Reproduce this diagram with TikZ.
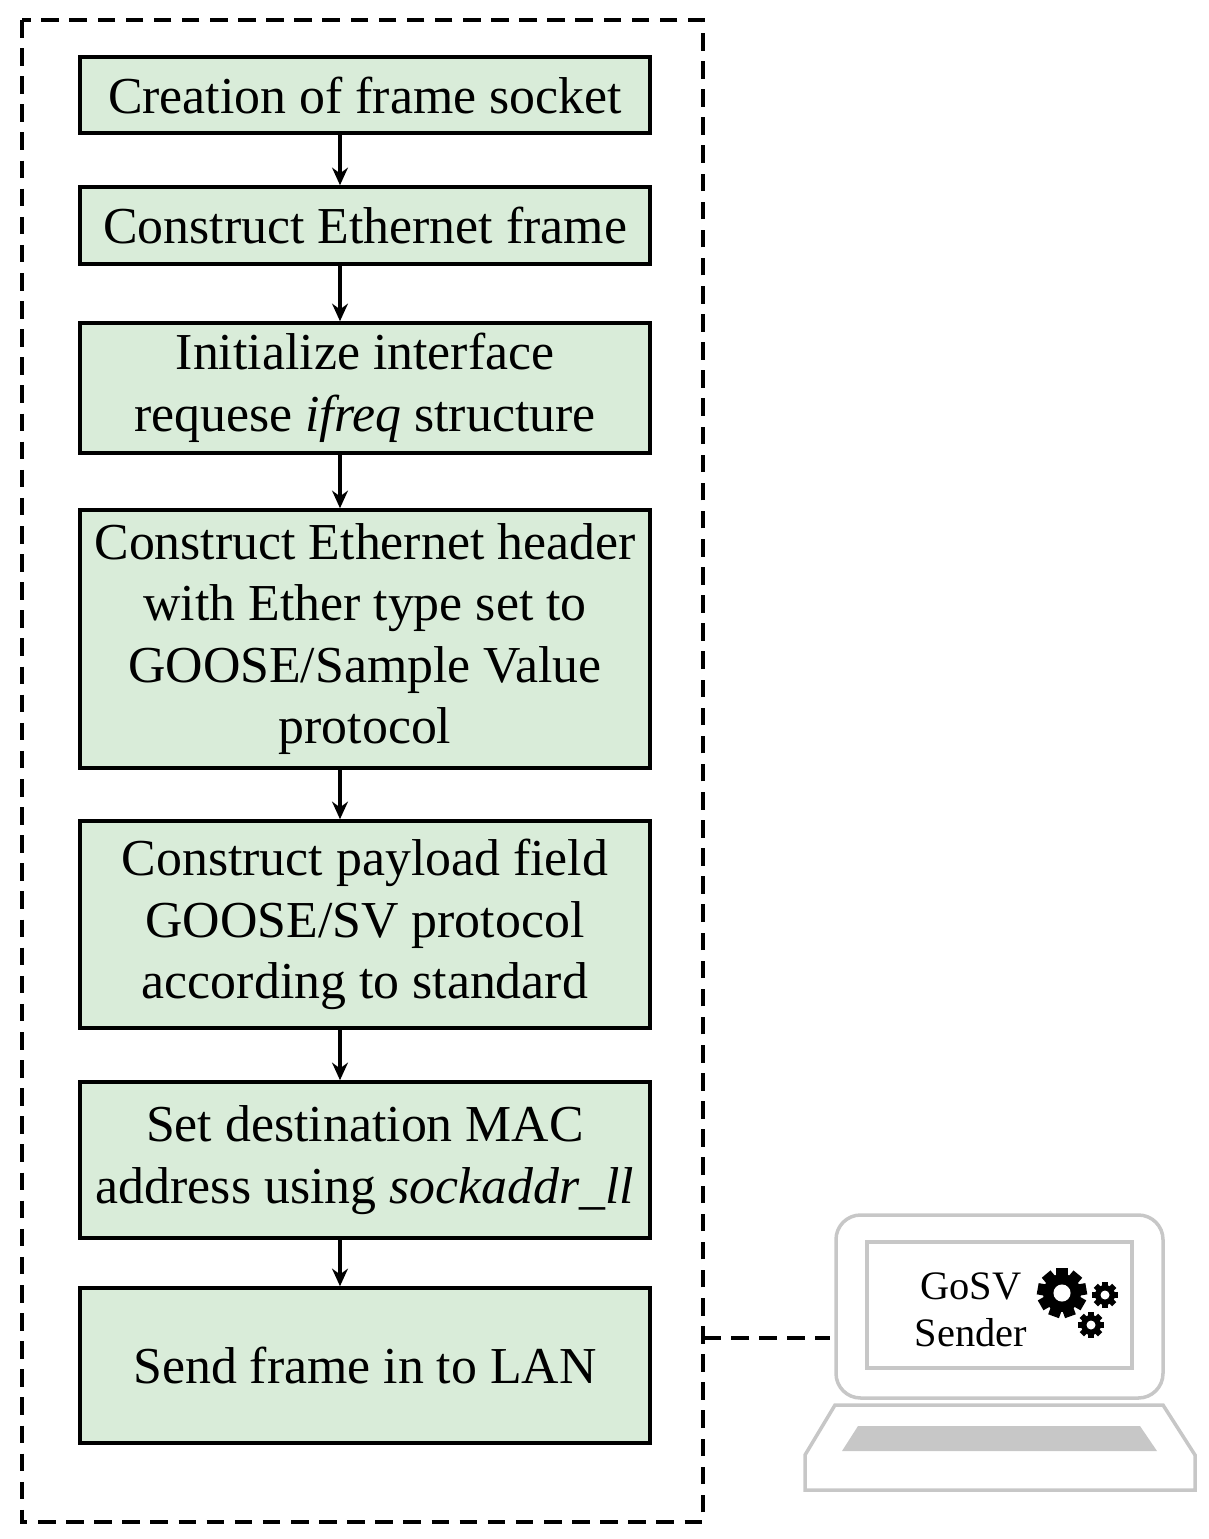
\documentclass[tikz,border=0pt]{standalone}
\usepackage{fontspec}
\setmainfont{Liberation Serif}
\usetikzlibrary{arrows.meta}
\begin{document}
\begin{tikzpicture}[x=0.02cm,y=-0.02cm,
  flowbox/.style={draw=black,line width=2pt,fill=green!50!black!15,minimum width=570*0.02cm,align=center,font=\fontsize{29.5}{35}\selectfont,inner sep=0pt},
  arr/.style={-{Stealth[length=10pt,width=9pt]},line width=2pt},
  lap/.style={draw=black!22,line width=2pt},
  dsh/.style={line width=2pt,dash pattern=on 10pt off 6pt}]
\useasboundingbox (0,0) rectangle (1209,1539);
\draw[dsh] (22,20) rectangle (703,1522);
\node[flowbox,minimum height=76*0.02cm] (s1) at (365,95) {Creation of frame socket};
\node[flowbox,minimum height=77*0.02cm] (s2) at (365,225.5) {Construct Ethernet frame};
\node[flowbox,minimum height=130*0.02cm] (s3) at (365,388) {Initialize interface\\ requese \textit{ifreq} structure};
\node[flowbox,minimum height=258*0.02cm] (s4) at (365,639) {Construct Ethernet header\\ with Ether type set to\\ GOOSE/Sample Value\\ protocol};
\node[flowbox,minimum height=207*0.02cm] (s5) at (365,924.5) {Construct payload field\\ GOOSE/SV protocol\\ according to standard};
\node[flowbox,minimum height=156*0.02cm] (s6) at (365,1160) {Set destination MAC\\ address using \textit{sockaddr\_ll}};
\node[flowbox,minimum height=155*0.02cm] (s7) at (365,1365.5) {Send frame in to LAN};
\foreach \a/\b in {s1/s2,s2/s3,s3/s4,s4/s5,s5/s6,s6/s7}
  \draw[arr] (\a.south -| 340,0) -- (\b.north -| 340,0);
% laptop
\draw[lap,rounded corners=14pt] (836,1398) -- (836,1215) -- (1163,1215) -- (1163,1398) -- cycle;
\node[lap,minimum width=265*0.02cm,minimum height=126*0.02cm,inner sep=0pt] (scr) at (999.5,1305) {};
\draw[lap] (835,1405) -- (1163,1405) -- (1195,1455) -- (1195,1490) -- (805,1490) -- (805,1455) -- cycle;
\fill[black!22] (858,1426) -- (1140,1426) -- (1157,1451) -- (842,1451) -- cycle;
\node[font=\fontsize{23}{27}\selectfont,align=center] (lbl) at (971,1310) {GoSV\\Sender};
\coordinate (c1) at (703,1338);
\coordinate (c2) at (830,1338);
\draw[dsh] (c1) -- (c2);
% gears
\foreach \cx/\cy/\r/\t in {1062/1293/19/9,1105/1295/10/8,1091/1325/10/8}{
  \fill[black] (\cx,\cy) circle (\r);
  \foreach \i in {1,...,\t}
    \fill[black,shift={(\cx,\cy)},rotate=\i*360/\t] (-0.3*\r,0) rectangle (0.3*\r,-1.3*\r);
  \fill[white] (\cx,\cy) circle (0.45*\r);
}
\end{tikzpicture}
\end{document}
